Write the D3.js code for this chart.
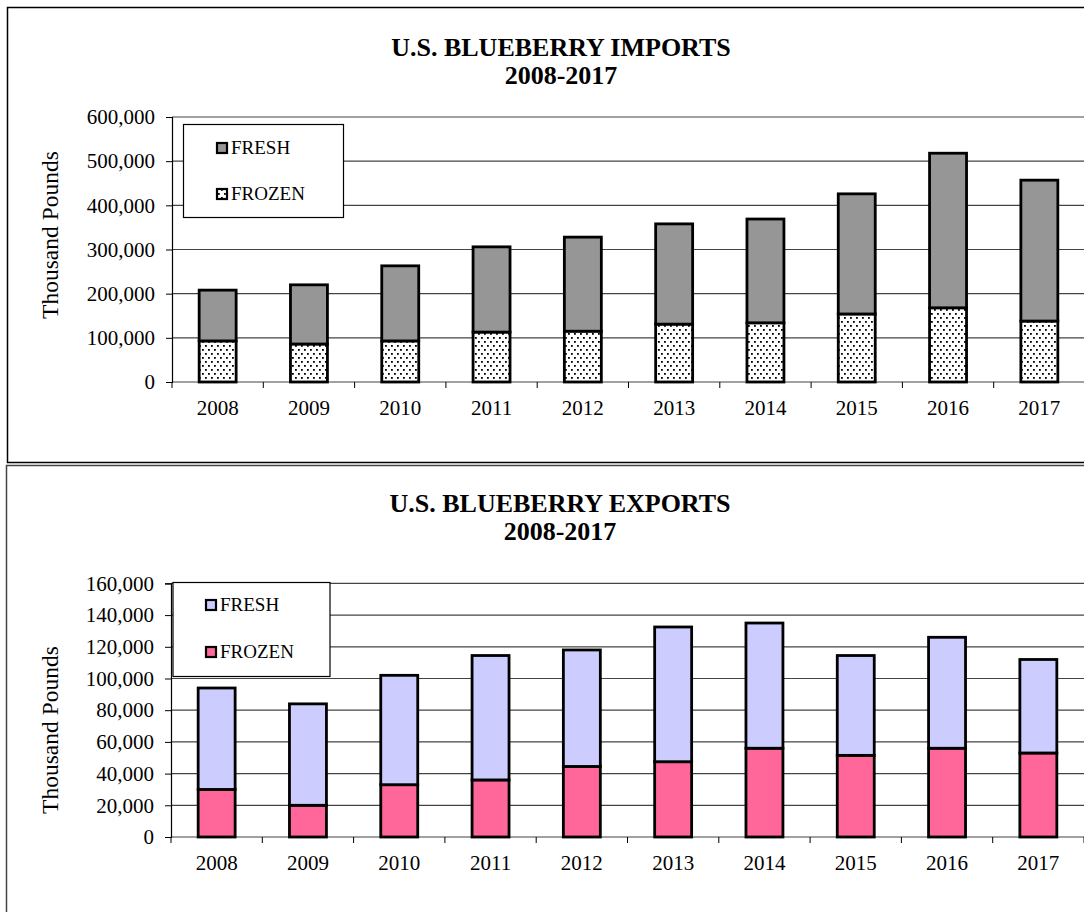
<!DOCTYPE html>
<html lang="en">
<head>
<meta charset="UTF-8">
<title>U.S. Blueberry Imports and Exports</title>
<script src="https://cdn.jsdelivr.net/npm/d3@7"></script>
<style>
    body { margin: 0; background: #fff; }
    svg text { font-family: "Liberation Serif", "Times New Roman", serif; fill: #000; }
</style>
</head>
<body>
<div id="fig"></div>
<script>
    // data, thousand pounds
    const years = ["2008", "2009", "2010", "2011", "2012", "2013", "2014", "2015", "2016", "2017"];
    const importsFrozen = [93000, 86000, 93000, 113000, 115000, 131000, 134000, 154000, 168000, 138000];
    const importsFresh = [115000, 134000, 170000, 193000, 213000, 227000, 235000, 272000, 350000, 319000];
    const exportsFrozen = [30000, 20000, 33000, 36000, 44500, 47500, 56000, 51500, 56000, 53000];
    const exportsFresh = [64000, 64000, 69000, 78500, 73500, 85000, 79000, 63000, 70000, 59000];
    const importTicks = [0, 100000, 200000, 300000, 400000, 500000, 600000];
    const exportTicks = [0, 20000, 40000, 60000, 80000, 100000, 120000, 140000, 160000];
    const seriesKeys = ["frozen", "fresh"];
    const legendLabels = ["FRESH", "FROZEN"];

    const width = 1084, height = 912;

    const svg = d3.select("#fig").append("svg")
        .attr("width", width)
        .attr("height", height);

    // dotted fill for frozen imports
    const pat = svg.append("defs").append("pattern")
        .attr("id", "dots")
        .attr("patternUnits", "userSpaceOnUse")
        .attr("width", 6)
        .attr("height", 8);
    pat.append("rect").attr("width", 6).attr("height", 8).attr("fill", "#fff");
    pat.append("rect").attr("x", 1).attr("y", 1).attr("width", 1.8).attr("height", 1.8).attr("fill", "#000");
    pat.append("rect").attr("x", 4).attr("y", 5).attr("width", 1.8).attr("height", 1.8).attr("fill", "#000");

    function drawChart(cfg) {
        const g = svg.append("g");

        g.append("rect")
            .attr("x", cfg.frame[0])
            .attr("y", cfg.frame[1])
            .attr("width", cfg.frame[2])
            .attr("height", cfg.frame[3])
            .attr("fill", "none")
            .attr("stroke", cfg.frameColor)
            .attr("stroke-width", 1.5);

        const x = d3.scaleBand()
            .domain(years)
            .range([cfg.left, cfg.right])
            .padding(0);
        const y = d3.scaleLinear()
            .domain([0, d3.max(cfg.ticks)])
            .range([cfg.bottom, cfg.top]);

        // gridlines
        g.append("g").selectAll("line")
            .data(cfg.ticks)
            .join("line")
            .attr("x1", cfg.left)
            .attr("x2", cfg.right)
            .attr("y1", d => y(d))
            .attr("y2", d => y(d))
            .attr("stroke", "#444")
            .attr("stroke-width", 1.2);

        // stacked bars
        const rows = years.map((yr, i) => ({year: yr, frozen: cfg.frozen[i], fresh: cfg.fresh[i]}));
        const stacked = d3.stack().keys(seriesKeys)(rows);
        const barW = x.bandwidth() * 0.405;

        g.append("g").selectAll("g")
            .data(stacked)
            .join("g")
            .attr("fill", d => cfg.colors[d.key])
            .selectAll("rect")
            .data(d => d)
            .join("rect")
            .attr("x", d => x(d.data.year) + (x.bandwidth() - barW) / 2)
            .attr("y", d => y(d[1]))
            .attr("width", barW)
            .attr("height", d => y(d[0]) - y(d[1]))
            .attr("stroke", "#000")
            .attr("stroke-width", 2.8);

        // y axis
        const yAxis = g.append("g")
            .attr("transform", "translate(" + cfg.left + ",0)")
            .call(d3.axisLeft(y).tickValues(cfg.ticks).tickFormat(d3.format(",")).tickSize(6).tickPadding(11));
        yAxis.select(".domain").attr("stroke", "#000").attr("stroke-width", 1.2);
        yAxis.selectAll(".tick line").attr("stroke", "#000");
        yAxis.selectAll("text").style("font-size", "21px");

        // x axis labels and category boundary ticks
        const xAxis = g.append("g")
            .attr("transform", "translate(0," + cfg.bottom + ")")
            .call(d3.axisBottom(x).tickSize(0).tickPadding(18));
        xAxis.select(".domain").remove();
        xAxis.selectAll("text").style("font-size", "21px");

        g.append("g").selectAll("line")
            .data(d3.range(years.length + 1))
            .join("line")
            .attr("x1", i => cfg.left + i * x.step())
            .attr("x2", i => cfg.left + i * x.step())
            .attr("y1", cfg.bottom)
            .attr("y2", cfg.bottom + 6)
            .attr("stroke", "#000");

        // axis title
        g.append("text")
            .attr("transform", "translate(" + cfg.axisTitle[0] + "," + cfg.axisTitle[1] + ") rotate(-90)")
            .attr("text-anchor", "middle")
            .style("font-size", "23.5px")
            .text("Thousand Pounds");

        // legend
        const lg = cfg.legend;
        g.append("rect")
            .attr("x", lg.x)
            .attr("y", lg.y)
            .attr("width", lg.w)
            .attr("height", lg.h)
            .attr("fill", "#fff")
            .attr("stroke", "#000")
            .attr("stroke-width", 1.2);
        const items = g.append("g").selectAll("g")
            .data(legendLabels)
            .join("g")
            .attr("transform", (d, i) => "translate(" + lg.sx + "," + lg.rows[i] + ")");
        items.append("rect")
            .attr("x", 0)
            .attr("y", -11)
            .attr("width", 10)
            .attr("height", 10)
            .attr("fill", d => cfg.colors[d.toLowerCase()])
            .attr("stroke", "#000")
            .attr("stroke-width", 2.2);
        items.append("text")
            .attr("x", 14)
            .attr("y", 0)
            .style("font-size", "19px")
            .text(d => d);

        // title
        g.append("g").selectAll("text")
            .data(cfg.title)
            .join("text")
            .attr("x", cfg.titleX)
            .attr("y", (d, i) => cfg.titleY[i])
            .attr("text-anchor", "middle")
            .style("font-size", "26px")
            .style("font-weight", "bold")
            .text(d => d);
    }

    drawChart({
        frame: [7.5, 7.5, 1100, 455],
        frameColor: "#000",
        left: 172, right: 1085, top: 117, bottom: 382,
        ticks: importTicks,
        frozen: importsFrozen,
        fresh: importsFresh,
        colors: {fresh: "#969696", frozen: "url(#dots)"},
        axisTitle: [58, 235],
        legend: {x: 183.5, y: 124.5, w: 160, h: 93, sx: 217, rows: [154, 200]},
        title: ["U.S. BLUEBERRY IMPORTS", "2008-2017"],
        titleX: 561,
        titleY: [56, 84]
    });

    drawChart({
        frame: [6.5, 465.5, 1100, 500],
        frameColor: "#444",
        left: 171, right: 1084, top: 583.4, bottom: 837,
        ticks: exportTicks,
        frozen: exportsFrozen,
        fresh: exportsFresh,
        colors: {fresh: "#CCCCFF", frozen: "#FF6699"},
        axisTitle: [58, 730],
        legend: {x: 173, y: 582.5, w: 157, h: 94, sx: 206, rows: [611, 658]},
        title: ["U.S. BLUEBERRY EXPORTS", "2008-2017"],
        titleX: 560,
        titleY: [512, 540]
    });
</script>
</body>
</html>
